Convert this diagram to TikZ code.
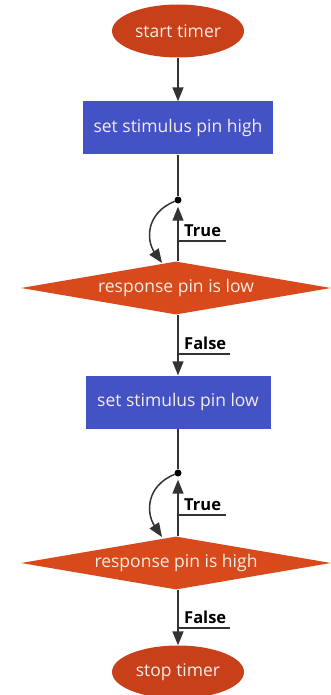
\documentclass[tikz,border=0pt]{standalone}
\usepackage{fontspec}
\setmainfont{Open Sans}
\usetikzlibrary{shapes.geometric,arrows.meta}
\definecolor{termred}{HTML}{C8401A}
\definecolor{decred}{HTML}{D84A1B}
\definecolor{actblue}{HTML}{4352C4}
\definecolor{wire}{HTML}{333333}
\definecolor{paletext}{HTML}{F4ECE6}
\begin{document}
\begin{tikzpicture}[x=1pt,y=-1pt,
  term/.style={ellipse,fill=termred,text=paletext,minimum width=132pt,minimum height=53pt,inner sep=0pt,font=\fontsize{17.5}{20}\selectfont},
  action/.style={rectangle,fill=actblue,text=paletext,minimum height=53pt,inner sep=0pt,font=\fontsize{17.5}{20}\selectfont},
  decision/.style={diamond,fill=decred,text=paletext,inner sep=0pt,aspect=5.85,minimum width=310pt,minimum height=53pt,font=\fontsize{17.5}{20}\selectfont},
  joint/.style={circle,fill=black,inner sep=0pt,minimum size=7pt},
  flow/.style={draw=wire,line width=1.5pt,-{Triangle[length=14pt,width=11pt]}},
  wireline/.style={draw=wire,line width=1.5pt},
  tag/.style={font=\bfseries\fontsize{16.5}{18}\selectfont,anchor=south west,inner sep=0pt},
  tagline/.style={draw=wire,line width=1.2pt}]
\useasboundingbox (0,0) rectangle (331,695);

\node[term] (start) at (178,31) {start timer};
\node[action,minimum width=190pt] (high) at (178,128) {set stimulus pin high};
\node[decision] (low) at (176,288) {response pin is low};
\node[action,minimum width=185pt] (lowset) at (178,402) {set stimulus pin low};
\node[decision] (hi) at (176,563) {response pin is high};
\node[term] (stop) at (178,672) {stop timer};

\node[joint] (j1) at (178,200) {};
\node[joint] (j2) at (178,473) {};
\coordinate (t1) at (178,241);
\coordinate (f1) at (178,354);
\coordinate (t2) at (178,515);
\coordinate (f2) at (178,628);

% main flow
\draw[flow] (start.south) -- (start.south |- high.north);
\draw[wireline] (high.south) -- (j1);
\draw[flow,shorten >=3pt] (low.north -| j1) -- (j1);
\draw[flow] (low.south -| j1) -- (j1 |- lowset.north);
\draw[wireline] (lowset.south) -- (j2);
\draw[flow,shorten >=3pt] (hi.north -| j2) -- (j2);
\draw[flow] (hi.south -| j2) -- (j2 |- stop.north);

% loop back while waiting
\coordinate (l1) at (162,263);
\coordinate (l2) at (162,537);
\draw[flow] (j1) .. controls (146,213) and (146,240) .. (l1);
\draw[flow] (j2) .. controls (146,486) and (146,513) .. (l2);

% branch labels
\node[tag] (tt1) at (184,237) {True};
\draw[tagline] (t1) -- ++(48,0);
\node[tag] (ff1) at (184,350) {False};
\draw[tagline] (f1) -- ++(52,0);
\node[tag] (tt2) at (184,511) {True};
\draw[tagline] (t2) -- ++(48,0);
\node[tag] (ff2) at (184,624) {False};
\draw[tagline] (f2) -- ++(52,0);
\end{tikzpicture}
\end{document}
